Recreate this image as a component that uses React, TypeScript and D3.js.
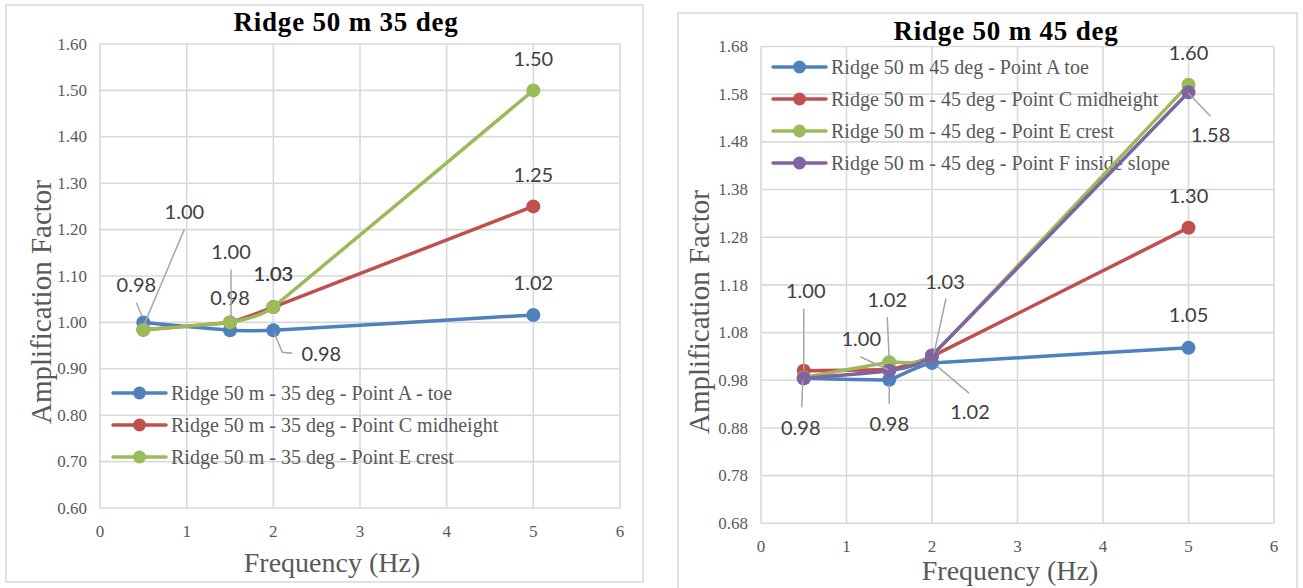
import React from 'react';
import * as d3 from 'd3';

// Shared frequency points (Hz) and x-axis ticks
const FREQ_HZ = [0.5, 1.5, 2, 5];
const X_TICKS = [0, 1, 2, 3, 4, 5, 6];

// Ridge 50 m, 35 degree slope
const TITLE_35 = 'Ridge 50 m 35 deg';
const Y_TICKS_35 = [0.6, 0.7, 0.8, 0.9, 1.0, 1.1, 1.2, 1.3, 1.4, 1.5, 1.6];
const A_TOE_35 = [1.0, 0.983, 0.983, 1.016];
const C_MID_35 = [0.984, 1.0, 1.033, 1.25];
const E_CREST_35 = [0.984, 1.0, 1.033, 1.5];
const NAMES_35 = [
  'Ridge 50 m - 35 deg - Point A - toe',
  'Ridge 50 m - 35 deg - Point C midheight',
  'Ridge 50 m - 35 deg - Point E crest',
];

// Ridge 50 m, 45 degree slope
const TITLE_45 = 'Ridge 50 m 45 deg';
const Y_TICKS_45 = [0.68, 0.78, 0.88, 0.98, 1.08, 1.18, 1.28, 1.38, 1.48, 1.58, 1.68];
const A_TOE_45 = [0.984, 0.981, 1.016, 1.048];
const C_MID_45 = [1.0, 1.003, 1.03, 1.3];
const E_CREST_45 = [0.986, 1.018, 1.032, 1.6];
const F_SLOPE_45 = [0.984, 1.0, 1.032, 1.584];
const NAMES_45 = [
  'Ridge 50 m 45 deg - Point A toe',
  'Ridge 50 m - 45 deg - Point C midheight',
  'Ridge 50 m - 45 deg - Point E crest',
  'Ridge 50 m - 45 deg - Point F inside slope',
];

const X_TITLE = 'Frequency (Hz)';
const Y_TITLE = 'Amplification Factor';

const BLUE = '#4F81BD';
const RED = '#C0504D';
const GREEN = '#9BBB59';
const PURPLE = '#8064A2';

const SERIF = '"Liberation Serif", "Times New Roman", serif';
const LABEL_FONT = 'Lato, "Liberation Sans", sans-serif';
const GRID = '#D9D9D9';
const AXIS_TEXT = '#595959';

type Series = { name: string; values: number[]; color: string };
type Label = {
  s: number; // series index
  i: number; // point index
  dx: number;
  dy: number;
  leader?: [number, number][];
};

type ChartProps = {
  frame: { x: number; y: number; w: number; h: number };
  plot: { left: number; right: number; top: number; bottom: number };
  yDomain: [number, number];
  yTicks: number[];
  title: string;
  titlePos: [number, number];
  series: Series[];
  legend: { x: number; y: number; step: number };
  labels: Label[];
  yTitlePos: [number, number];
  xTitlePos: [number, number];
};

const fmt = d3.format('.2f');

function Chart(p: ChartProps) {
  const x = d3.scaleLinear().domain([0, 6]).range([p.plot.left, p.plot.right]);
  const y = d3.scaleLinear().domain(p.yDomain).range([p.plot.bottom, p.plot.top]);
  const line = d3
    .line<number>()
    .x((_, i) => x(FREQ_HZ[i]))
    .y((v) => y(v))
    .curve(d3.curveCardinal.tension(0.75));

  return (
    <g>
      <rect
        x={p.frame.x}
        y={p.frame.y}
        width={p.frame.w}
        height={p.frame.h}
        fill="#fff"
        stroke={GRID}
        strokeWidth={1.5}
      />
      {/* gridlines */}
      {p.yTicks.map((t) => (
        <line
          key={'h' + t}
          x1={p.plot.left}
          x2={p.plot.right}
          y1={y(t)}
          y2={y(t)}
          stroke={GRID}
          strokeWidth={1.6}
        />
      ))}
      {X_TICKS.map((t) => (
        <line
          key={'v' + t}
          x1={x(t)}
          x2={x(t)}
          y1={p.plot.top}
          y2={p.plot.bottom}
          stroke={GRID}
          strokeWidth={1.6}
        />
      ))}
      {/* tick labels */}
      {p.yTicks.map((t) => (
        <text
          key={'yl' + t}
          x={p.plot.left - 13}
          y={y(t)}
          dy="0.33em"
          textAnchor="end"
          fontFamily={SERIF}
          fontSize={17}
          fill={AXIS_TEXT}
        >
          {fmt(t)}
        </text>
      ))}
      {X_TICKS.map((t) => (
        <text
          key={'xl' + t}
          x={x(t)}
          y={p.plot.bottom + 23}
          dy="0.33em"
          textAnchor="middle"
          fontFamily={SERIF}
          fontSize={17}
          fill={AXIS_TEXT}
        >
          {t}
        </text>
      ))}
      {/* title and axis titles */}
      <text
        x={p.titlePos[0]}
        y={p.titlePos[1]}
        textAnchor="middle"
        fontFamily={SERIF}
        fontWeight="bold"
        fontSize={27}
        letterSpacing={0.8}
        fill="#000"
      >
        {p.title}
      </text>
      <text
        transform={`translate(${p.yTitlePos[0]},${p.yTitlePos[1]}) rotate(-90)`}
        textAnchor="middle"
        fontFamily={SERIF}
        fontSize={29}
        fill={AXIS_TEXT}
      >
        {Y_TITLE}
      </text>
      <text
        x={p.xTitlePos[0]}
        y={p.xTitlePos[1]}
        textAnchor="middle"
        fontFamily={SERIF}
        fontSize={28}
        fill={AXIS_TEXT}
      >
        {X_TITLE}
      </text>
      {/* legend */}
      {p.series.map((s, k) => {
        const ly = p.legend.y + k * p.legend.step;
        return (
          <g key={'lg' + k}>
            <line
              x1={p.legend.x}
              x2={p.legend.x + 53}
              y1={ly}
              y2={ly}
              stroke={s.color}
              strokeWidth={3.5}
              strokeLinecap="round"
            />
            <circle cx={p.legend.x + 26.5} cy={ly} r={6.5} fill={s.color} />
            <text
              x={p.legend.x + 58}
              y={ly}
              dy="0.33em"
              fontFamily={SERIF}
              fontSize={20}
              fill={AXIS_TEXT}
            >
              {s.name}
            </text>
          </g>
        );
      })}
      {/* series */}
      {p.series.map((s, k) => (
        <g key={'s' + k}>
          <path
            d={line(s.values) || ''}
            fill="none"
            stroke={s.color}
            strokeWidth={3.5}
            strokeLinecap="round"
            strokeLinejoin="round"
          />
          {s.values.map((v, i) => (
            <circle key={i} cx={x(FREQ_HZ[i])} cy={y(v)} r={7} fill={s.color} />
          ))}
        </g>
      ))}
      {/* data labels */}
      {p.labels.map((lb, n) => {
        const v = p.series[lb.s].values[lb.i];
        const px = x(FREQ_HZ[lb.i]);
        const py = y(v);
        return (
          <g key={'dl' + n}>
            {lb.leader && (
              <polyline
                points={lb.leader.map(([a, b]) => `${px + a},${py + b}`).join(' ')}
                fill="none"
                stroke="#A6A6A6"
                strokeWidth={1.5}
              />
            )}
            <text
              x={px + lb.dx}
              y={py + lb.dy}
              dy="0.36em"
              textAnchor="middle"
              fontFamily={LABEL_FONT}
              fontSize={20}
              fill="#404040"
            >
              {fmt(v)}
            </text>
          </g>
        );
      })}
    </g>
  );
}

const SERIES_35: Series[] = [
  { name: NAMES_35[0], values: A_TOE_35, color: BLUE },
  { name: NAMES_35[1], values: C_MID_35, color: RED },
  { name: NAMES_35[2], values: E_CREST_35, color: GREEN },
];

const SERIES_45: Series[] = [
  { name: NAMES_45[0], values: A_TOE_45, color: BLUE },
  { name: NAMES_45[1], values: C_MID_45, color: RED },
  { name: NAMES_45[2], values: E_CREST_45, color: GREEN },
  { name: NAMES_45[3], values: F_SLOPE_45, color: PURPLE },
];

// label placement relative to each labelled point
const LABELS_35: Label[] = [
  { s: 2, i: 0, dx: -7, dy: -45, leader: [[-7, -27], [-1, -13]] },
  { s: 0, i: 0, dx: 41, dy: -111, leader: [[41, -93], [0, 4]] },
  { s: 0, i: 1, dx: 0, dy: -32 },
  { s: 2, i: 1, dx: 1, dy: -71, leader: [[1, -53], [1, -2]] },
  { s: 1, i: 2, dx: 0, dy: -33 },
  { s: 2, i: 2, dx: 0, dy: -33 },
  { s: 0, i: 2, dx: 48, dy: 24, leader: [[1, 3], [9, 22], [19, 23]] },
  { s: 2, i: 3, dx: 0, dy: -32 },
  { s: 1, i: 3, dx: 0, dy: -32 },
  { s: 0, i: 3, dx: 0, dy: -32 },
];

const LABELS_45: Label[] = [
  { s: 1, i: 0, dx: 2, dy: -80, leader: [[0, -62], [0, -1]] },
  { s: 3, i: 0, dx: -3, dy: 49, leader: [[-2, 29], [-1, 2]] },
  { s: 2, i: 1, dx: -2, dy: -62, leader: [[-2, -45], [0, -2]] },
  { s: 3, i: 1, dx: -28, dy: -32, leader: [[-29, -14], [-1, -1]] },
  { s: 0, i: 1, dx: 0, dy: 44, leader: [[0, 24], [0, 5]] },
  { s: 3, i: 2, dx: 13, dy: -74, leader: [[14, -57], [2, -2]] },
  { s: 0, i: 2, dx: 38, dy: 49, leader: [[37, 30], [5, 3]] },
  { s: 2, i: 3, dx: 0, dy: -32 },
  { s: 3, i: 3, dx: 22, dy: 43, leader: [[22, 24], [0, 1]] },
  { s: 1, i: 3, dx: 0, dy: -32 },
  { s: 0, i: 3, dx: 0, dy: -33 },
];

export default function App() {
  return (
    <svg
      width={1303}
      height={588}
      style={{ position: 'absolute', left: 0, top: 0, background: '#fff' }}
    >
      <rect x={0} y={0} width={1303} height={588} fill="#fff" />
      <Chart
        frame={{ x: 6, y: 5, w: 637, h: 577 }}
        plot={{ left: 100, right: 620, top: 44, bottom: 508 }}
        yDomain={[0.6, 1.6]}
        yTicks={Y_TICKS_35}
        title={TITLE_35}
        titlePos={[346, 31]}
        series={SERIES_35}
        legend={{ x: 113, y: 393, step: 32 }}
        labels={LABELS_35}
        yTitlePos={[51, 302]}
        xTitlePos={[332, 572]}
      />
      <Chart
        frame={{ x: 678, y: 13, w: 619, h: 600 }}
        plot={{ left: 761, right: 1274, top: 46.5, bottom: 523.3 }}
        yDomain={[0.68, 1.68]}
        yTicks={Y_TICKS_45}
        title={TITLE_45}
        titlePos={[1006, 39.5]}
        series={SERIES_45}
        legend={{ x: 773, y: 67, step: 32 }}
        labels={LABELS_45}
        yTitlePos={[709, 312]}
        xTitlePos={[1010, 580]}
      />
    </svg>
  );
}
